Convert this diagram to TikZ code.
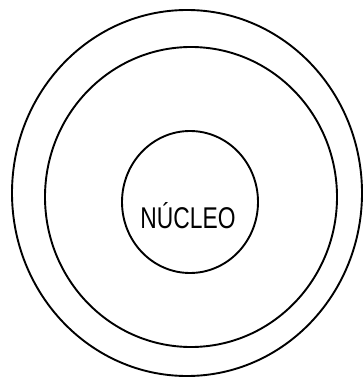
\documentclass[tikz,border=0pt]{standalone}
\usepackage{fontspec}
\setmainfont{Liberation Sans}
\begin{document}
\begin{tikzpicture}[x=1pt,y=-1pt,
  ring/.style={draw=black,line width=1.9pt},
  label/.style={font=\fontsize{30}{32}\selectfont,xscale=0.76,inner sep=0pt}]
\useasboundingbox (0,0) rectangle (363,377);
\draw[ring] (187,193) ellipse [x radius=175, y radius=183];
\draw[ring] (191,197) ellipse [x radius=146, y radius=150];
\draw[ring] (190,202) ellipse [x radius=68, y radius=71];
\node[label] (nucleo) at (188,216) {NÚCLEO};
\end{tikzpicture}
\end{document}
